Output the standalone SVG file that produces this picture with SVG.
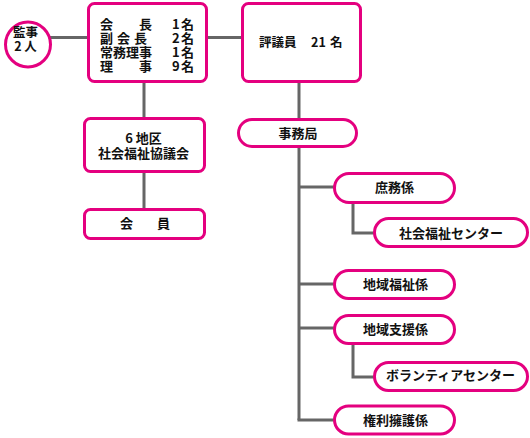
<svg xmlns="http://www.w3.org/2000/svg" width="530" height="438" viewBox="0 0 530 438">
<style>
.n{fill:#fff;stroke:#e4007f;stroke-width:3}
.c{fill:none;stroke:#666;stroke-width:3}
text{font-family:"Noto Sans CJK JP","Noto Sans",sans-serif;font-size:13px;font-weight:bold;fill:#111}
.m{text-anchor:middle}
.r{font-size:12.5px}
</style>
<rect width="530" height="438" fill="#fff"/>
<g id="connectors">
<path class="c" d="M50 37.5H88"/>
<path class="c" d="M207 37.5H242"/>
<path class="c" d="M144 82V118M144 172V209"/>
<path class="c" d="M299 82V119M299 147V420"/>
<path class="c" d="M299 187H334M299 284H334M299 328H334M297.5 420H334"/>
<path class="c" d="M353 203V233H374"/>
<path class="c" d="M353 344V377H374"/>
</g>
<g id="kanji">
<circle class="n" cx="28" cy="44.5" r="22.5"/>
<text x="25.5" y="37" class="m r">監事</text>
<text x="25.5" y="51" class="m r">2 人</text>
</g>
<g id="yakuin">
<rect class="n" x="88.5" y="3.5" width="118" height="78" rx="6"/>
<text x="100" y="29">会<tspan x="139">長</tspan><tspan x="172">1</tspan><tspan x="181">名</tspan></text>
<text x="100" y="43">副<tspan x="117">会</tspan><tspan x="134">長</tspan><tspan x="172">2</tspan><tspan x="181">名</tspan></text>
<text x="100" y="57">常務理事<tspan x="172">1</tspan><tspan x="181">名</tspan></text>
<text x="100" y="71">理<tspan x="139">事</tspan><tspan x="172">9</tspan><tspan x="181">名</tspan></text>
</g>
<g id="hyogiin">
<rect class="n" x="242.5" y="3.5" width="118" height="78" rx="6"/>
<text x="259" y="46.5" class="r">評議員<tspan x="311">21</tspan><tspan x="330">名</tspan></text>
</g>
<g id="chiku">
<rect class="n" x="84.5" y="118.5" width="120" height="53" rx="6"/>
<text x="143.5" y="142.5" class="m">6 地区</text>
<text x="143.5" y="158" class="m">社会福祉協議会</text>
</g>
<g id="kaiin">
<rect class="n" x="84.5" y="209.5" width="120" height="29" rx="6"/>
<text x="120" y="228">会<tspan x="157">員</tspan></text>
</g>
<g id="jimukyoku">
<rect class="n" x="238.5" y="119.5" width="118" height="27" rx="13.5"/>
<text x="298" y="137.5" class="m">事務局</text>
</g>
<g id="shomu">
<rect class="n" x="334.5" y="173.5" width="120" height="29" rx="14.5"/>
<text x="394.5" y="192" class="m">庶務係</text>
</g>
<g id="center1">
<rect class="n" x="374.5" y="218.5" width="153" height="28" rx="14"/>
<text x="451" y="238" class="m">社会福祉センター</text>
</g>
<g id="chiikifukushi">
<rect class="n" x="334.5" y="270.5" width="120" height="28" rx="14"/>
<text x="395.5" y="289" class="m">地域福祉係</text>
</g>
<g id="chiikishien">
<rect class="n" x="334.5" y="315.5" width="120" height="28" rx="14"/>
<text x="395.5" y="333.5" class="m">地域支援係</text>
</g>
<g id="volunteer">
<rect class="n" x="374.5" y="362.5" width="153" height="28" rx="14"/>
<text x="450.5" y="380" class="m">ボランティアセンター</text>
</g>
<g id="kenri">
<rect class="n" x="334.5" y="406" width="120" height="28" rx="14"/>
<text x="395.5" y="424.5" class="m">権利擁護係</text>
</g>
</svg>
